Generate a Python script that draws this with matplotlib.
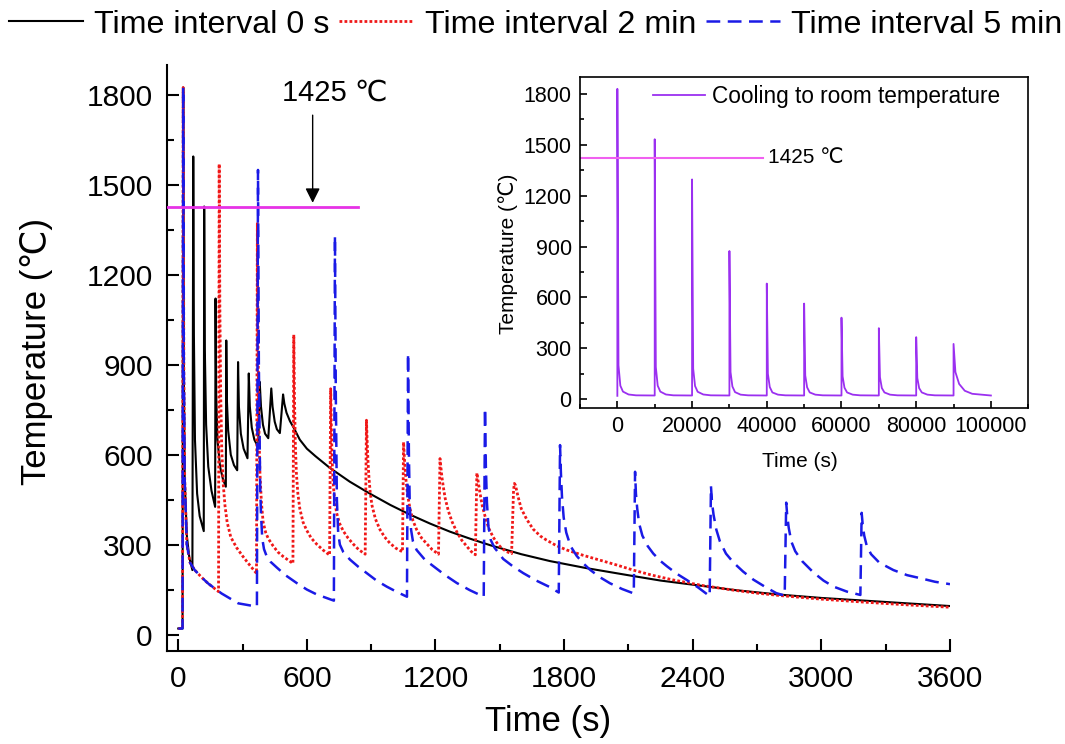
"""
Thermal cycles at the monitoring point: temperature vs time for three
time intervals, with an inset for cooling to room temperature.
Saves out.png.
"""
import matplotlib
matplotlib.use("Agg")
import matplotlib.pyplot as plt
from matplotlib.ticker import MultipleLocator

plt.rcParams["font.family"] = ["Liberation Sans", "DejaVu Sans"]

# ---- data (time in s, temperature in degC) ----
t_0s = [0, 20, 23, 26, 30, 40, 52, 66,
        70, 73, 78, 88, 100, 119,
        121, 124, 130, 140, 155, 172,
        174, 177, 183, 195, 208, 222,
        224, 227, 233, 245, 260, 275,
        279, 283, 292, 305, 323,
        329, 334, 343, 355, 373,
        380, 386, 395, 405, 420,
        434, 440, 450, 460, 474,
        489, 495, 505, 521, 540, 567, 600, 640, 707, 800, 894, 990, 1081,
        1175, 1268, 1360, 1455, 1600, 1734, 1900, 2123, 2250, 2403, 2600,
        2807, 3000, 3181, 3400, 3600]
T_0s = [20, 20, 1825, 900, 520, 330, 255, 215,
        1595, 1000, 650, 470, 395, 345,
        1428, 950, 700, 560, 480, 426,
        1121, 800, 650, 560, 520, 493,
        981, 780, 680, 600, 565, 548,
        909, 760, 670, 620, 588,
        871, 760, 690, 650, 625,
        843, 760, 700, 670, 655,
        821, 760, 710, 685, 672,
        801, 770, 740, 712, 688, 650, 620, 595, 556, 510, 470, 432, 400,
        370, 343, 320, 298, 268, 245, 222, 195, 180, 166, 148,
        133, 122, 114, 104, 95]

t_2min = [0, 20, 23, 26, 30, 40, 55, 77, 110, 140, 188,
          191, 194, 198, 203, 210, 218, 228, 245, 272, 300, 326, 365,
          369, 372, 376, 381, 388, 396, 408, 420, 443, 465, 490, 535,
          539, 542, 546, 551, 558, 567, 582, 599, 620, 645, 675, 706,
          711, 714, 718, 723, 730, 739, 753, 770, 792, 816, 842, 872,
          878, 881, 885, 890, 896, 904, 920, 941, 963, 987, 1015, 1046,
          1051, 1054, 1058, 1063, 1070, 1081, 1095, 1112, 1135, 1159, 1185, 1214,
          1221, 1225, 1230, 1236, 1245, 1260, 1278, 1299, 1322, 1345, 1365, 1386,
          1393, 1397, 1402, 1408, 1418, 1431, 1448, 1469, 1490, 1509, 1530, 1555,
          1564, 1568, 1573, 1585, 1600, 1625, 1655, 1690, 1718, 1760, 1812,
          1890, 1967, 2045, 2122, 2210, 2309, 2450, 2590, 2700, 2807, 3000,
          3200, 3400, 3600]
T_2min = [20, 20, 1825, 900, 520, 300, 240, 215, 190, 170, 143,
          1570, 1100, 800, 620, 500, 430, 375, 325, 290, 262, 238, 204,
          1371, 1000, 700, 540, 440, 375, 340, 320, 295, 275, 260, 237,
          1000, 800, 640, 540, 470, 420, 375, 348, 322, 302, 282, 265,
          820, 700, 580, 500, 445, 405, 370, 345, 322, 302, 283, 268,
          715, 650, 580, 520, 470, 430, 385, 350, 325, 305, 288, 276,
          642, 600, 555, 510, 465, 420, 380, 350, 322, 303, 283, 268,
          587, 560, 525, 495, 455, 412, 375, 343, 315, 295, 278, 266,
          539, 520, 495, 470, 430, 395, 355, 325, 302, 288, 277, 270,
          480, 504, 498, 460, 420, 385, 352, 328, 315, 298, 282,
          264, 248, 232, 215, 198, 182, 163, 148, 138, 130, 118,
          108, 99, 91]

t_5min = [0, 20, 23, 26, 30, 40, 55, 77, 110, 140, 202, 280, 367,
          372, 376, 382, 386, 392, 400, 412, 430, 459, 500, 552, 600, 645, 726,
          731, 735, 740, 746, 754, 770, 801, 840, 879, 925, 972, 1020, 1067,
          1072, 1076, 1080, 1086, 1095, 1112, 1150, 1190, 1245, 1299, 1360, 1425,
          1431, 1435, 1440, 1447, 1458, 1475, 1516, 1560, 1609, 1670, 1734, 1775,
          1781, 1785, 1790, 1798, 1810, 1830, 1859, 1890, 1921, 1965, 2014, 2070, 2125,
          2131, 2135, 2141, 2150, 2165, 2190, 2216, 2250, 2279, 2325, 2372, 2425, 2479,
          2485, 2490, 2497, 2510, 2527, 2555, 2590, 2635, 2683, 2740, 2790, 2829,
          2836, 2841, 2848, 2860, 2878, 2910, 2963, 3010, 3056, 3120, 3182,
          3188, 3193, 3200, 3212, 3232, 3270, 3336, 3400, 3461, 3530, 3600]
T_5min = [20, 20, 1825, 900, 520, 300, 240, 215, 190, 170, 137, 104, 93,
          1550, 900, 500, 400, 320, 285, 262, 243, 224, 198, 172, 150, 134, 113,
          1330, 800, 450, 340, 300, 275, 250, 226, 205, 180, 160, 142, 126,
          938, 600, 430, 350, 310, 282, 250, 228, 198, 172, 148, 126,
          755, 560, 440, 360, 315, 290, 252, 228, 205, 180, 158, 140,
          632, 540, 460, 390, 340, 295, 262, 237, 216, 192, 171, 152, 137,
          543, 470, 420, 370, 330, 295, 270, 245, 228, 203, 182, 157, 128,
          495, 440, 400, 350, 310, 270, 240, 210, 183, 158, 138, 130,
          440, 395, 355, 310, 278, 245, 207, 180, 160, 143, 132,
          406, 365, 330, 295, 268, 240, 215, 198, 188, 176, 168]

# inset: ten thermal cycles then cooling to room temperature
t_cool = [0, 0, 300, 800, 1500, 3000, 5000, 10000,
          10000, 10300, 10800, 11500, 13000, 15000, 20000,
          20000, 20300, 20800, 21500, 23000, 25000, 30000,
          30000, 30300, 30800, 31500, 33000, 35000, 40000,
          40000, 40300, 40800, 41500, 43000, 45000, 50000,
          50000, 50300, 50800, 51500, 53000, 55000, 60000,
          60000, 60300, 60800, 61500, 63000, 65000, 70000,
          70000, 70300, 70800, 71500, 73000, 75000, 80000,
          80000, 80300, 80800, 81500, 83000, 85000, 90000,
          90000, 90500, 91500, 93000, 95000, 100000]
T_cool = [20, 1830, 200, 80, 45, 28, 23, 22,
          1533, 190, 80, 45, 28, 23, 22,
          1296, 180, 78, 44, 28, 23, 22,
          874, 160, 75, 42, 27, 23, 22,
          682, 150, 72, 40, 27, 23, 22,
          564, 140, 70, 40, 27, 23, 22,
          481, 135, 68, 40, 27, 23, 22,
          419, 130, 66, 40, 27, 23, 22,
          366, 125, 65, 40, 27, 23, 22,
          326, 160, 90, 50, 32, 22]

MELT = 1425
main_xticks = [0, 600, 1200, 1800, 2400, 3000, 3600]
main_yticks = [0, 300, 600, 900, 1200, 1500, 1800]
inset_xticks = [0, 20000, 40000, 60000, 80000, 100000]
inset_yticks = [0, 300, 600, 900, 1200, 1500, 1800]

fig = plt.figure(figsize=(10.65, 7.44), dpi=100)

# ---- main axes ----
ax = fig.add_axes([0.1565, 0.1254, 0.7355, 0.7872])
l0, = ax.plot(t_0s, T_0s, color="black", lw=1.5, label="Time interval 0 s", zorder=3)
l2, = ax.plot(t_2min, T_2min, color="#f01818", lw=2.0, ls=(0, (1.0, 0.8)),
              label="Time interval 2 min", zorder=4)
l5, = ax.plot(t_5min, T_5min, color="#1a1ae6", lw=1.8, ls=(0, (5.5, 3)),
              label="Time interval 5 min", zorder=5)
ax.plot([-54, 838], [MELT, MELT], color="#e632e6", lw=2.0, zorder=6)
ax.annotate("", xy=(627, MELT + 6), xytext=(627, 1742),
            arrowprops=dict(arrowstyle="-|>", color="black", lw=1.0,
                            mutation_scale=22))
ax.text(730, 1809, "1425 \u2103", ha="center", va="center", fontsize=21)

ax.set_xlim(-54, 3600)
ax.set_ylim(-54, 1900)
ax.set_xticks(main_xticks)
ax.set_yticks(main_yticks)
ax.xaxis.set_minor_locator(MultipleLocator(300))
ax.yaxis.set_minor_locator(MultipleLocator(150))
ax.spines["top"].set_visible(False)
ax.spines["right"].set_visible(False)
for s in ("left", "bottom"):
    ax.spines[s].set_linewidth(1.5)
ax.tick_params(which="major", direction="in", length=8.5, width=1.5,
               labelsize=21.5, pad=10)
ax.tick_params(which="minor", direction="in", length=5, width=1.5)
ax.set_xlabel("Time (s)", fontsize=25)
ax.set_ylabel("Temperature (\u2103)", fontsize=25)
ax.xaxis.set_label_coords(0.487, -0.093)
ax.yaxis.set_label_coords(-0.145, 0.511)

fig.legend(handles=[l0, l2, l5], loc="upper center", bbox_to_anchor=(0.503, 1.0),
           ncol=3, frameon=False, fontsize=23.2, handlelength=2.3,
           handletextpad=0.35, columnspacing=0.3, borderpad=0.2,
           borderaxespad=0.1)

# ---- inset ----
axi = fig.add_axes([0.5446, 0.452, 0.4209, 0.4445])
axi.plot(t_cool, T_cool, color="#9b30f0", lw=1.3, label="Cooling to room temperature")
axi.plot([-10000, 39000], [MELT, MELT], color="#f060f0", lw=1.5)
axi.text(40300, MELT, "1425 \u2103", ha="left", va="center", fontsize=15)
axi.set_xlim(-10000, 110000)
axi.set_ylim(-50, 1900)
axi.set_xticks(inset_xticks)
axi.set_yticks(inset_yticks)
axi.xaxis.set_minor_locator(MultipleLocator(10000))
axi.yaxis.set_minor_locator(MultipleLocator(150))
for s in axi.spines.values():
    s.set_linewidth(1.2)
axi.tick_params(which="major", direction="in", length=5, width=1.2,
                labelsize=15.5, pad=6)
axi.tick_params(which="minor", direction="in", length=3, width=1.2)
axi.set_xlabel("Time (s)", fontsize=15)
axi.set_ylabel("Temperature (\u2103)", fontsize=15)
axi.xaxis.set_label_coords(0.49, -0.134)
axi.yaxis.set_label_coords(-0.138, 0.464)
axi.legend(loc="upper left", bbox_to_anchor=(0.163, 0.975), frameon=False,
           fontsize=16.3, handlelength=2.3, handletextpad=0.3, borderpad=0,
           borderaxespad=0)

fig.savefig("out.png", dpi=100)
